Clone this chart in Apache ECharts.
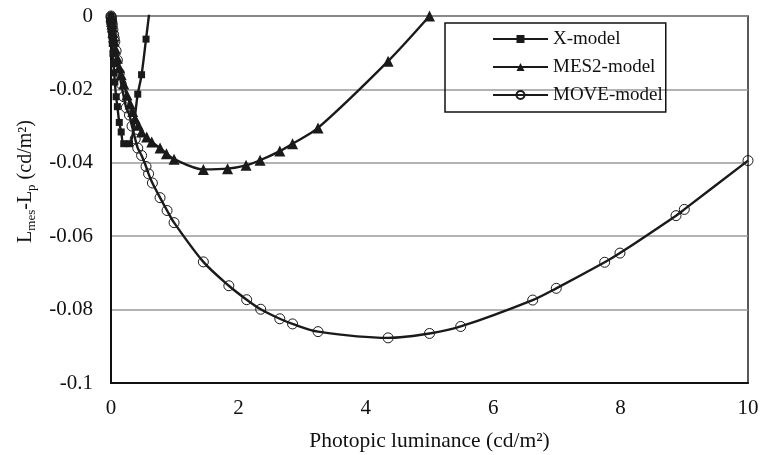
<!DOCTYPE html>
<html>
<head>
<meta charset="utf-8">
<script src="https://cdn.jsdelivr.net/npm/echarts@6/dist/echarts.min.js"></script>
<style>html,body{margin:0;padding:0;background:#fff}#c{width:761px;height:455px}</style>
</head>
<body>
<div id="c"></div>
<script>
const seriesNames = ['X-model', 'MES2-model', 'MOVE-model'];

const xModelX = [0, 0.002, 0.005, 0.008, 0.01, 0.015, 0.02, 0.03, 0.04, 0.05, 0.06, 0.08, 0.1, 0.13, 0.16, 0.2, 0.29, 0.42, 0.48, 0.55, 0.6];
const xModelY = [0, -0.001, -0.002, -0.003, -0.004, -0.0055, -0.0075, -0.0102, -0.013, -0.0155, -0.018, -0.022, -0.0247, -0.029, -0.0316, -0.0348, -0.0348, -0.0213, -0.016, -0.0063, 0.0008];

const mes2X = [0, 0.002, 0.005, 0.01, 0.015, 0.02, 0.03, 0.04, 0.05, 0.07, 0.1, 0.13, 0.16, 0.2, 0.25, 0.3, 0.34, 0.38, 0.43, 0.48, 0.56, 0.64, 0.77, 0.87, 0.99, 1.45, 1.83, 2.12, 2.34, 2.65, 2.85, 3.25, 4.35, 5.0];
const mes2Y = [0, -0.0003, -0.0008, -0.0015, -0.0022, -0.003, -0.0045, -0.0057, -0.0068, -0.009, -0.0115, -0.014, -0.016, -0.0185, -0.0215, -0.024, -0.026, -0.028, -0.0298, -0.0316, -0.033, -0.0343, -0.036, -0.0375, -0.039, -0.0418, -0.0416, -0.0407, -0.0393, -0.0368, -0.0348, -0.0305, -0.0123, 0];

const moveX = [0, 0.002, 0.005, 0.01, 0.015, 0.02, 0.03, 0.04, 0.05, 0.06, 0.08, 0.1, 0.13, 0.16, 0.2, 0.24, 0.29, 0.33, 0.38, 0.42, 0.48, 0.55, 0.59, 0.65, 0.77, 0.88, 0.99, 1.45, 1.85, 2.13, 2.35, 2.65, 2.85, 3.25, 4.35, 5.0, 5.49, 6.62, 6.99, 7.75, 7.99, 8.87, 9.0, 10];
const moveY = [0, -0.0003, -0.0006, -0.0012, -0.0018, -0.0025, -0.0037, -0.005, -0.006, -0.007, -0.0095, -0.012, -0.0155, -0.0185, -0.022, -0.025, -0.027, -0.030, -0.0335, -0.036, -0.038, -0.041, -0.043, -0.0455, -0.0495, -0.053, -0.0563, -0.067, -0.0735, -0.0773, -0.0799, -0.0825, -0.0839, -0.086, -0.0877, -0.0865, -0.0846, -0.0774, -0.0742, -0.0671, -0.0646, -0.0544, -0.0527, -0.0394];

const xTicks = {min: 0, max: 10, interval: 2};
const yTicks = {min: -0.1, max: 0, interval: 0.02};

function pairs(xs, ys) { return xs.map((x, i) => [x, ys[i]]); }

const FONT = "'Liberation Serif', 'Times New Roman', serif";
const INK = '#1a1a1a';

const chart = echarts.init(document.getElementById('c'), null, {renderer: 'canvas'});
chart.setOption({
  animation: false,
  backgroundColor: '#fff',
  grid: {left: 111, right: 13, top: 16, bottom: 72, containLabel: false, outerBoundsMode: 'none',
         show: true, borderColor: '#222', borderWidth: 1.5, backgroundColor: 'transparent'},
  legend: {
    orient: 'vertical', left: 445, top: 23,
    padding: [6, 3, 7, 47],
    borderColor: '#111', borderWidth: 1.5,
    itemWidth: 55, itemHeight: 10, itemGap: 8,
    textStyle: {fontFamily: FONT, fontSize: 19, color: '#111', lineHeight: 20},
    data: seriesNames
  },
  xAxis: {
    type: 'value', min: xTicks.min, max: xTicks.max, interval: xTicks.interval,
    name: 'Photopic luminance (cd/m²)', nameLocation: 'middle', nameGap: 47,
    nameTextStyle: {fontFamily: FONT, fontSize: 21.5, color: '#111'},
    axisLine: {show: true, onZero: false, lineStyle: {color: '#111', width: 2}},
    axisTick: {show: false},
    splitLine: {show: false},
    axisLabel: {fontFamily: FONT, fontSize: 21, color: '#111', margin: 15}
  },
  yAxis: {
    type: 'value', min: yTicks.min, max: yTicks.max, interval: yTicks.interval,
    name: '{m|L}{s|mes}{m|-L}{s|p}{m| (cd/m²)}', nameLocation: 'middle', nameGap: 72, nameRotate: 90,
    nameTextStyle: {
      fontFamily: FONT, fontSize: 20, color: '#111', padding: [0, 0, 0, 36],
      rich: {
        m: {fontFamily: FONT, fontSize: 20, color: '#111', lineHeight: 26},
        s: {fontFamily: FONT, fontSize: 13, color: '#111', lineHeight: 14, verticalAlign: 'bottom'}
      }
    },
    axisLine: {show: true, onZero: false, lineStyle: {color: '#111', width: 2}},
    axisTick: {show: false},
    splitLine: {show: true, lineStyle: {color: '#9a9a9a', width: 1.5}},
    axisLabel: {fontFamily: FONT, fontSize: 21, color: '#111', margin: 18}
  },
  series: [
    {
      name: seriesNames[0], type: 'line', data: pairs(xModelX, xModelY),
      smooth: 0.3, symbol: 'rect', symbolSize: 7, showAllSymbol: true,
      lineStyle: {color: INK, width: 2.4}, itemStyle: {color: INK}, z: 3
    },
    {
      name: seriesNames[1], type: 'line', data: pairs(mes2X, mes2Y),
      smooth: 0.3, symbol: 'triangle', symbolSize: 11, showAllSymbol: true,
      lineStyle: {color: INK, width: 2.4}, itemStyle: {color: INK}, z: 2
    },
    {
      name: seriesNames[2], type: 'line', data: pairs(moveX, moveY),
      smooth: 0.3, symbol: 'circle', symbolSize: 10, showAllSymbol: true,
      lineStyle: {color: INK, width: 2.4},
      itemStyle: {color: 'rgba(255,255,255,0)', borderColor: INK, borderWidth: 1}, z: 1
    }
  ]
});
</script>
</body>
</html>
